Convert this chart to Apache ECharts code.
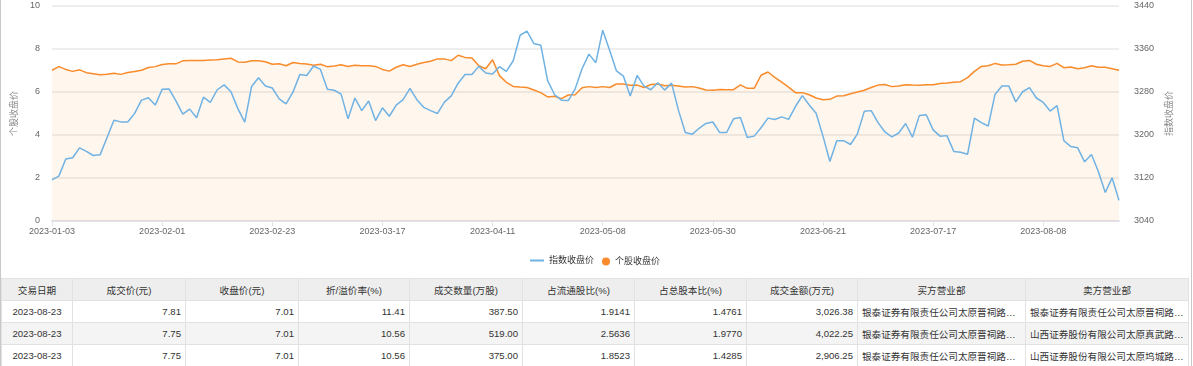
<!DOCTYPE html>
<html>
<head>
<meta charset="utf-8">
<style>
  body { margin: 0; background: #fff; }
  .wrap { width: 1190px; height: 366px; border-left: 1px solid #c8c8c8; border-right: 1px solid #c8c8c8; overflow: hidden; }
  #container { width: 1190px; height: 278px; }
  table { border-collapse: collapse; width: 1187px; table-layout: fixed; font-family: "Liberation Sans", "Noto Sans CJK SC", sans-serif; font-size: 9.6px; color: #333; }
  th, td { height: 21px; border: 1px solid #e2e2e2; padding: 0 4px; white-space: nowrap; overflow: hidden; text-overflow: ellipsis; }
  th { background: #eeeeee; font-weight: normal; text-align: center; }
  td { text-align: right; }
  td.c { text-align: center; }
  td.l { text-align: left; }
  tr.odd td { background: #f4f4f4; }
</style>
</head>
<body>
<div class="wrap">
<div id="container"></div>
<table id="tbl"></table>
</div>
<script src="https://cdn.jsdelivr.net/npm/echarts@6/dist/echarts.min.js"></script>
<script type="text/javascript">
    // 交易日（休市日除外）
    var holidays = ['2023-01-02', '2023-01-23', '2023-01-24', '2023-01-25', '2023-01-26', '2023-01-27',
        '2023-04-05', '2023-05-01', '2023-05-02', '2023-05-03', '2023-06-22', '2023-06-23'];
    var dates = [];
    (function () {
        var t = Date.UTC(2023, 0, 3), end = Date.UTC(2023, 7, 23);
        for (; t <= end; t += 86400000) {
            var d = new Date(t), s = d.toISOString().slice(0, 10);
            if (d.getUTCDay() === 0 || d.getUTCDay() === 6 || holidays.indexOf(s) >= 0) continue;
            dates.push(s);
        }
    })();

    // 指数收盘价
    var indexClose = [
        3116.51, 3123.52, 3155.22, 3157.64, 3176.08, 3169.51, 3161.84, 3163.45, 3195.31, 3227.59,
        3224.41, 3224.24, 3240.28, 3264.81, 3269.32, 3255.67, 3284.92, 3285.67, 3263.41, 3238.70,
        3248.09, 3232.11, 3270.38, 3260.67, 3284.16, 3293.28, 3280.49, 3249.03, 3224.02, 3290.34,
        3306.52, 3291.15, 3287.48, 3267.16, 3258.03, 3279.61, 3312.35, 3310.65, 3328.39, 3322.03,
        3285.10, 3283.25, 3276.09, 3230.08, 3268.70, 3245.31, 3263.31, 3226.89, 3250.55, 3234.91,
        3255.65, 3265.65, 3286.65, 3265.70, 3251.40, 3245.38, 3240.06, 3261.25, 3272.86, 3296.40,
        3312.56, 3312.63, 3327.65, 3315.36, 3313.57, 3327.18, 3318.36, 3338.15, 3385.61, 3393.12,
        3370.13, 3367.03, 3301.26, 3275.41, 3264.87, 3264.10, 3285.88, 3323.27, 3350.46, 3334.50,
        3395.00, 3357.67, 3319.15, 3309.55, 3272.36, 3310.74, 3290.99, 3284.23, 3297.32, 3283.54,
        3296.47, 3246.24, 3204.75, 3201.26, 3212.50, 3221.45, 3224.21, 3204.56, 3204.63, 3230.07,
        3232.44, 3195.34, 3197.90, 3213.59, 3231.41, 3228.83, 3233.67, 3228.99, 3252.98, 3273.33,
        3255.81, 3240.36, 3197.90, 3150.62, 3189.38, 3189.44, 3182.38, 3202.06, 3243.98, 3245.35,
        3222.95, 3205.64, 3196.61, 3203.70, 3221.37, 3196.00, 3236.48, 3237.70, 3209.63, 3197.82,
        3198.84, 3169.52, 3167.75, 3164.16, 3231.52, 3223.13, 3216.67, 3275.93, 3291.04, 3290.95,
        3261.69, 3280.46, 3288.08, 3268.83, 3260.62, 3244.49, 3254.56, 3189.25, 3178.43, 3176.18,
        3150.13, 3163.74, 3131.95, 3092.98, 3120.33, 3078.40
    ];

    // 个股收盘价
    var stockClose = [
        7.01, 7.18, 7.05, 6.96, 7.03, 6.90, 6.85, 6.80, 6.83, 6.87,
        6.82, 6.91, 6.95, 7.01, 7.14, 7.18, 7.28, 7.31, 7.31, 7.45,
        7.47, 7.47, 7.46, 7.49, 7.50, 7.54, 7.57, 7.40, 7.38, 7.45,
        7.45, 7.41, 7.29, 7.31, 7.22, 7.37, 7.33, 7.30, 7.24, 7.29,
        7.18, 7.21, 7.27, 7.19, 7.24, 7.22, 7.22, 7.19, 7.05, 6.97,
        7.15, 7.27, 7.19, 7.29, 7.37, 7.43, 7.54, 7.54, 7.46, 7.71,
        7.61, 7.58, 7.22, 7.08, 7.50, 6.76, 6.45, 6.26, 6.23, 6.21,
        6.09, 5.97, 5.77, 5.80, 5.69, 5.86, 5.87, 6.20, 6.25, 6.21,
        6.25, 6.21, 6.37, 6.37, 6.31, 6.32, 6.21, 6.35, 6.37, 6.29,
        6.31, 6.28, 6.23, 6.25, 6.19, 6.09, 6.08, 6.12, 6.11, 6.11,
        6.33, 6.17, 6.17, 6.78, 6.93, 6.68, 6.46, 6.23, 5.97, 5.97,
        5.87, 5.72, 5.64, 5.66, 5.81, 5.83, 5.92, 6.00, 6.08, 6.21,
        6.32, 6.35, 6.25, 6.28, 6.34, 6.32, 6.31, 6.34, 6.34, 6.40,
        6.42, 6.45, 6.48, 6.67, 6.96, 7.19, 7.22, 7.33, 7.26, 7.27,
        7.29, 7.43, 7.47, 7.29, 7.22, 7.19, 7.33, 7.13, 7.16, 7.08,
        7.13, 7.22, 7.15, 7.15, 7.08, 7.01
    ];

    // 大宗交易明细
    var tableHead = ['交易日期', '成交价(元)', '收盘价(元)', '折/溢价率(%)', '成交数量(万股)', '占流通股比(%)', '占总股本比(%)', '成交金额(万元)', '买方营业部', '卖方营业部'];
    var colWidths = [71, 113, 113, 111, 113, 112, 112, 111, 168, 163];
    var tradeDate = ['2023-08-23', '2023-08-23', '2023-08-23'];
    var dealPrice = ['7.81', '7.75', '7.75'];
    var closePrice = ['7.01', '7.01', '7.01'];
    var premium = ['11.41', '10.56', '10.56'];
    var volume = ['387.50', '519.00', '375.00'];
    var floatRatio = ['1.9141', '2.5636', '1.8523'];
    var totalRatio = ['1.4761', '1.9770', '1.4285'];
    var amount = ['3,026.38', '4,022.25', '2,906.25'];
    var buyer = ['银泰证券有限责任公司太原晋祠路证券营业部', '银泰证券有限责任公司太原晋祠路证券营业部', '银泰证券有限责任公司太原晋祠路证券营业部'];
    var seller = ['银泰证券有限责任公司太原晋祠路证券营业部', '山西证券股份有限公司太原真武路证券营业部', '山西证券股份有限公司太原坞城路证券营业部'];

    var html = '<colgroup>' + colWidths.map(function (w) { return '<col style="width:' + w + 'px">'; }).join('') + '</colgroup>';
    html += '<tr>' + tableHead.map(function (h) { return '<th>' + h + '</th>'; }).join('') + '</tr>';
    for (var r = 0; r < tradeDate.length; r++) {
        html += '<tr class="' + (r % 2 ? 'odd' : '') + '">' +
            '<td class="c">' + tradeDate[r] + '</td><td>' + dealPrice[r] + '</td><td>' + closePrice[r] + '</td>' +
            '<td>' + premium[r] + '</td><td>' + volume[r] + '</td><td>' + floatRatio[r] + '</td>' +
            '<td>' + totalRatio[r] + '</td><td>' + amount[r] + '</td>' +
            '<td class="l">' + buyer[r] + '</td><td class="l">' + seller[r] + '</td></tr>';
    }
    document.getElementById('tbl').innerHTML = html;

    var dom = document.getElementById("container");
    var myChart = echarts.init(dom);
    var axisColor = '#e2e2ea';
    var legendText = { fontSize: 9, color: '#333' };
    var option = {
        backgroundColor: '#fff',
        textStyle: { fontFamily: '"Liberation Sans", "Noto Sans CJK SC", sans-serif' },
        animation: false,
        grid: { left: 51, right: 72, top: 6, bottom: 57 },
        legend: [{
            top: 251,
            left: 524,
            itemWidth: 14,
            itemHeight: 2,
            textStyle: legendText,
            data: [{ name: '指数收盘价', icon: 'rect' }]
        }, {
            top: 252,
            left: 596,
            itemWidth: 8,
            itemHeight: 8,
            textStyle: legendText,
            data: [{ name: '个股收盘价', icon: 'circle' }]
        }],
        xAxis: {
            type: 'category',
            boundaryGap: false,
            data: dates,
            axisLine: { lineStyle: { color: axisColor, width: 2 } },
            axisTick: { interval: 15, length: 5, lineStyle: { color: axisColor } },
            axisLabel: { interval: 15, fontSize: 9, color: '#666', margin: 6 }
        },
        yAxis: [{
            type: 'value',
            name: '个股收盘价',
            nameLocation: 'middle',
            nameGap: 30,
            nameTextStyle: { fontSize: 9, color: '#888' },
            min: 0,
            max: 10,
            interval: 2,
            axisLine: { show: false },
            axisTick: { show: false },
            axisLabel: { fontSize: 9, color: '#666', margin: 12 },
            splitLine: { lineStyle: { color: '#e8e8e8', width: 1.5 } }
        }, {
            type: 'value',
            name: '指数收盘价',
            nameLocation: 'middle',
            nameGap: 44,
            nameTextStyle: { fontSize: 9, color: '#888' },
            min: 3040,
            max: 3440,
            interval: 80,
            axisLine: { show: false },
            axisTick: { show: false },
            axisLabel: {
                fontSize: 9, color: '#666', margin: 15,
                formatter: function (v) { return String(v); }
            },
            splitLine: { show: false }
        }],
        series: [{
            name: '指数收盘价',
            type: 'line',
            yAxisIndex: 1,
            data: indexClose,
            symbol: 'none',
            z: 3,
            itemStyle: { color: '#6fb2e3' },
            lineStyle: { width: 1.5, color: '#6fb2e3' }
        }, {
            name: '个股收盘价',
            type: 'line',
            yAxisIndex: 0,
            data: stockClose,
            symbol: 'circle',
            showSymbol: false,
            z: 2,
            itemStyle: { color: '#f98b2b' },
            lineStyle: { width: 1.5, color: '#f98b2b' },
            areaStyle: { color: 'rgba(249, 139, 43, 0.11)' }
        }]
    };

    if (option && typeof option === "object") {
        myChart.setOption(option, true);
    }
    window.addEventListener('resize', function () {
        myChart.resize();
    });
</script>
</body>
</html>
